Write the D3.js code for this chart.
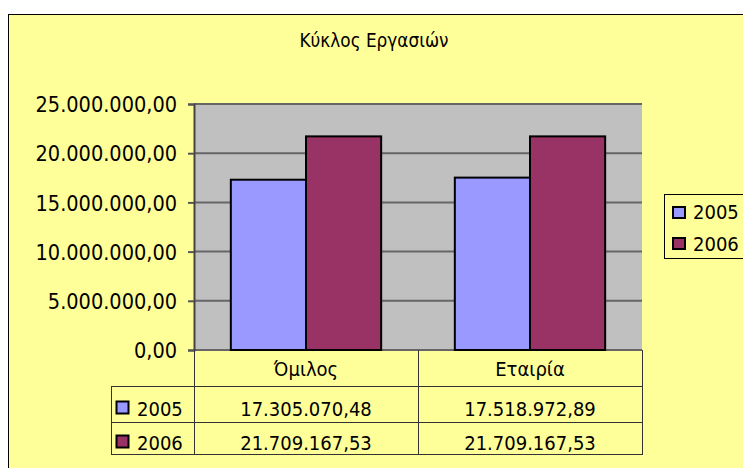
<!DOCTYPE html>
<html>
<head>
<meta charset="utf-8">
<script src="https://cdn.jsdelivr.net/npm/d3@7"></script>
<style>
  body { margin: 0; background: #ffffff; overflow: hidden; }
  text { font-family: "DejaVu Sans Condensed", "DejaVu Sans", sans-serif; font-stretch: condensed; fill: #000; }
</style>
</head>
<body>
<div id="my_dataviz"></div>
<script>
// data
var categories = ["Όμιλος", "Εταιρία"];
var seriesNames = ["2005", "2006"];
var values2005 = [17305070.48, 17518972.89];
var values2006 = [21709167.53, 21709167.53];
var yTicks = [0, 5000000, 10000000, 15000000, 20000000, 25000000];
var seriesColors = ["#9999FF", "#993366"];

var W = 743, H = 468;
var plot = { left: 194, right: 642, top: 104, bottom: 350 };
var axisFs = "21.5px", tableFs = "20px";

var locale = d3.formatLocale({ decimal: ",", thousands: ".", grouping: [3], currency: ["", ""] });
var fmt = locale.format(",.2f");

var svg = d3.select("#my_dataviz")
    .append("svg")
    .attr("width", W)
    .attr("height", H);

// chart area
svg.append("rect")
    .attr("x", 8.5).attr("y", 14.5)
    .attr("width", 760).attr("height", 470)
    .attr("fill", "#FFFF99")
    .attr("stroke", "#000").attr("stroke-width", 1);

// title
svg.append("text")
    .attr("x", 374).attr("y", 47)
    .attr("text-anchor", "middle")
    .style("font-size", "18.8px")
    .text("Κύκλος Εργασιών");

var dataReady = seriesNames.map(function (s, i) {
    var vals = i === 0 ? values2005 : values2006;
    return { name: s, color: seriesColors[i], values: categories.map(function (c, j) { return { cat: c, value: vals[j] }; }) };
});

var x0 = d3.scaleBand().domain(categories).range([plot.left, plot.right]).padding(0);
var x1 = d3.scaleBand().domain(seriesNames).range([0, x0.bandwidth()]).paddingInner(0).paddingOuter(0.49);
var y = d3.scaleLinear().domain([0, 25000000]).range([plot.bottom, plot.top]);

// plot area
svg.append("rect")
    .attr("x", plot.left).attr("y", plot.top)
    .attr("width", plot.right - plot.left).attr("height", plot.bottom - plot.top)
    .attr("fill", "#C0C0C0");

// gridlines
svg.append("g")
    .selectAll("line")
    .data(yTicks)
    .enter()
    .append("line")
    .attr("x1", plot.left).attr("x2", plot.right)
    .attr("y1", function (d) { return y(d); })
    .attr("y2", function (d) { return y(d); })
    .attr("stroke", "#666").attr("stroke-width", 2);

// y axis
var yAxis = svg.append("g")
    .attr("transform", "translate(" + plot.left + ",0)")
    .call(d3.axisLeft(y).tickValues(yTicks).tickFormat(fmt).tickSize(6).tickPadding(11));
yAxis.select(".domain").attr("stroke", "#444").attr("stroke-width", 2);
yAxis.selectAll(".tick line").attr("stroke", "#555").attr("stroke-width", 2);
yAxis.selectAll("text").style("font-size", axisFs).attr("font-family", null).attr("dy", "0.36em");

// bars
svg.selectAll("myBars")
    .data(dataReady)
    .enter()
    .append("g")
    .attr("fill", function (d) { return d.color; })
    .selectAll("rect")
    .data(function (d) { return d.values.map(function (v) { return { name: d.name, cat: v.cat, value: v.value }; }); })
    .enter()
    .append("rect")
    .attr("x", function (d) { return x0(d.cat) + x1(d.name); })
    .attr("y", function (d) { return y(d.value); })
    .attr("width", x1.bandwidth())
    .attr("height", function (d) { return y(0) - y(d.value); })
    .attr("stroke", "#000").attr("stroke-width", 2);

// data table
var rowLines = [386, 422, 454], tableLeft = 111;
var tbl = svg.append("g").attr("stroke", "#333").attr("stroke-width", 1);
// vertical lines
categories.concat(["end"]).forEach(function (c, i) {
    var xx = i < categories.length ? x0(c) : plot.right;
    tbl.append("line").attr("x1", xx + 0.5).attr("x2", xx + 0.5)
        .attr("y1", plot.bottom).attr("y2", rowLines[2]);
});
tbl.append("line").attr("x1", tableLeft + 0.5).attr("x2", tableLeft + 0.5)
    .attr("y1", rowLines[0]).attr("y2", rowLines[2]);
// horizontal lines
rowLines.forEach(function (ly) {
    tbl.append("line").attr("x1", tableLeft).attr("x2", plot.right + 1)
        .attr("y1", ly + 0.5).attr("y2", ly + 0.5);
});

// category headers
svg.selectAll("myCats")
    .data(categories)
    .enter()
    .append("text")
    .attr("x", function (d) { return x0(d) + x0.bandwidth() / 2; })
    .attr("y", 376)
    .attr("text-anchor", "middle")
    .style("font-size", tableFs)
    .text(function (d) { return d; });

// table rows
var rowBase = [416, 450];
dataReady.forEach(function (s, i) {
    svg.append("rect")
        .attr("x", tableLeft + 5.5).attr("y", rowBase[i] - 14.5)
        .attr("width", 12).attr("height", 12)
        .attr("fill", s.color).attr("stroke", "#000").attr("stroke-width", 2);
    svg.append("text")
        .attr("x", tableLeft + 26).attr("y", rowBase[i])
        .style("font-size", tableFs)
        .text(s.name);
    s.values.forEach(function (v) {
        svg.append("text")
            .attr("x", x0(v.cat) + x0.bandwidth() / 2).attr("y", rowBase[i])
            .attr("text-anchor", "middle")
            .style("font-size", tableFs)
            .text(fmt(v.value));
    });
});

// legend
var legend = svg.append("g");
legend.append("rect")
    .attr("x", 664.5).attr("y", 194.5)
    .attr("width", 90).attr("height", 64)
    .attr("fill", "#FFFF99").attr("stroke", "#000").attr("stroke-width", 1);
dataReady.forEach(function (s, i) {
    legend.append("rect")
        .attr("x", 673).attr("y", 207 + i * 31)
        .attr("width", 12).attr("height", 11)
        .attr("fill", s.color).attr("stroke", "#000").attr("stroke-width", 2);
    legend.append("text")
        .attr("x", 693).attr("y", 219 + i * 32)
        .style("font-size", tableFs)
        .text(s.name);
});
</script>
</body>
</html>
